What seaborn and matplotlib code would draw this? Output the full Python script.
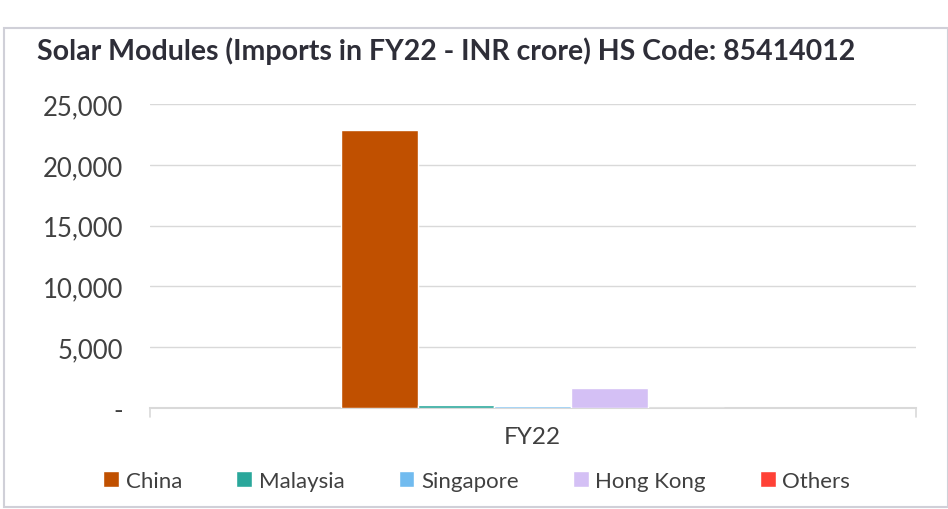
import matplotlib
matplotlib.use("Agg")
import matplotlib.pyplot as plt
import matplotlib.ticker as mticker
from matplotlib.patches import Rectangle
import pandas as pd
import seaborn as sns

years = ["FY22"]
countries = ["China", "Malaysia", "Singapore", "Hong Kong", "Others"]
values = [22900, 250, 150, 1650, 5]
colors = ["#C05000", "#2AA79B", "#71BBEF", "#D4C0F5", "#FF4136"]
yticks = [0, 5000, 10000, 15000, 20000, 25000]

df = pd.DataFrame({"year": years * len(countries), "country": countries, "value": values})

sns.set_style("white")
plt.rcParams["font.family"] = ["Lato", "DejaVu Sans"]

fig = plt.figure(figsize=(9.48, 5.10), dpi=100)
ax = fig.add_axes([0.158, 0.198, 0.808, 0.596])

sns.barplot(data=df, x="year", y="value", hue="country", hue_order=countries,
            palette=colors, width=0.5, gap=0, saturation=1, ax=ax, legend=True)

ax.set_xlim(-0.5, 0.5)
ax.set_ylim(0, 25000)
ax.set_yticks(yticks)
ax.yaxis.set_major_formatter(mticker.FuncFormatter(lambda v, p: "-" if v == 0 else f"{v:,.0f}"))
ax.grid(axis="y", color="#D9D9D9", lw=1)
ax.set_axisbelow(True)
for s in ["left", "right", "top"]:
    ax.spines[s].set_visible(False)
ax.spines["bottom"].set_color("#D9D9D9")
ax.spines["bottom"].set_linewidth(1.5)
ax.spines["bottom"].set_zorder(0.5)
ax.tick_params(axis="y", length=0, labelsize=18.5, labelcolor="#404040", pad=19)
ax.tick_params(axis="x", length=0, labelsize=17.5, labelcolor="#404040", pad=13)
ax.set_xlabel("")
ax.set_ylabel("")

# end ticks of the category axis
for xv in ax.get_xlim():
    ax.plot([xv, xv], [0, -0.03], transform=ax.get_xaxis_transform(),
            color="#D9D9D9", lw=1.2, clip_on=False)

handles, labels = ax.get_legend_handles_labels()
ax.get_legend().remove()
fig.legend(handles, labels, loc="center", bbox_to_anchor=(0.503, 0.055), ncol=5,
           frameon=False, fontsize=16, handlelength=0.7, handleheight=0.7,
           handletextpad=0.3, columnspacing=2.45, labelcolor="#404040")

fig.text(0.039, 0.9, "Solar Modules (Imports in FY22 - INR crore) HS Code: 85414012",
         fontsize=20.5, fontweight="bold", color="#2E2E38", va="center")

fig.patches.append(Rectangle((0.004, 0.004), 0.996, 0.94, transform=fig.transFigure,
                             fill=False, edgecolor="#D0D0D8", lw=1.5))

fig.savefig("out.png", dpi=100)
